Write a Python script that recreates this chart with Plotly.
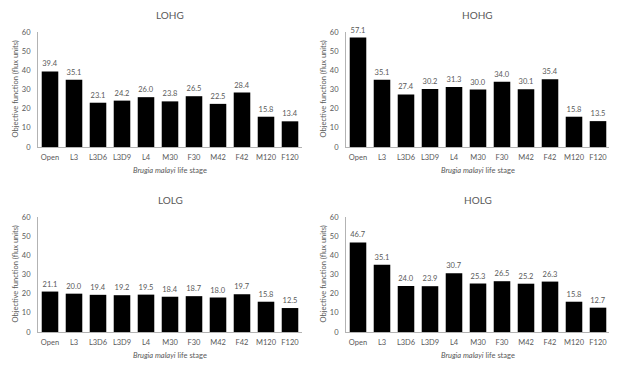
import plotly.graph_objects as go

stages = ["Open", "L3", "L3D6", "L3D9", "L4", "M30", "F30", "M42", "F42", "M120", "F120"]
lohg = [39.4, 35.1, 23.1, 24.2, 26.0, 23.8, 26.5, 22.5, 28.4, 15.8, 13.4]
hohg = [57.1, 35.1, 27.4, 30.2, 31.3, 30.0, 34.0, 30.1, 35.4, 15.8, 13.5]
lolg = [21.1, 20.0, 19.4, 19.2, 19.5, 18.4, 18.7, 18.0, 19.7, 15.8, 12.5]
holg = [46.7, 35.1, 24.0, 23.9, 30.7, 25.3, 26.5, 25.2, 26.3, 15.8, 12.7]
panel_titles = ["LOHG", "HOHG", "LOLG", "HOLG"]
y_ticks = [0, 10, 20, 30, 40, 50, 60]

# page body has an 8px margin; the figure is drawn at (8, 8)
OFF = 8
W, H = 617 - OFF, 370 - OFF
FONT = "Lato, Open Sans, sans-serif"
GRAY = "#595959"
AX = "#b3b3b3"
CLEAR = "rgba(0,0,0,0)"

# panel pixel boxes in window coords: (x0, x1, y_top(60), y_bottom(0))
boxes = [
    (38, 302, 32, 147),
    (346, 610, 32, 147),
    (38, 302, 217, 332),
    (346, 610, 217, 332),
]
series = [lohg, hohg, lolg, holg]


def px(x):
    return (x - OFF) / W


def py(y):
    return 1 - (y - OFF) / H


fig = go.Figure()
for i, (vals, box, title) in enumerate(zip(series, boxes, panel_titles)):
    n = "" if i == 0 else str(i + 1)
    x0, x1, yt, yb = box
    fig.add_trace(go.Bar(
        x=stages, y=vals, xaxis="x" + n, yaxis="y" + n,
        marker=dict(color="black", line=dict(width=0)),
        text=[f"{v:.1f}" for v in vals], textposition="outside",
        textfont=dict(family=FONT, size=7.5, color=GRAY),
        cliponaxis=False, showlegend=False,
    ))
    fig.layout["xaxis" + n] = dict(
        domain=[px(x0), px(x1)], anchor="y" + n, showline=True, linecolor=AX,
        linewidth=1, ticks="outside", ticklen=3, tickcolor=CLEAR,
        tickfont=dict(family=FONT, size=7.5, color=GRAY),
        showgrid=False, zeroline=False, automargin=False,
    )
    fig.layout["yaxis" + n] = dict(
        domain=[py(yb), py(yt)], anchor="x" + n, range=[0, 60], tickvals=y_ticks,
        showline=True, linecolor=AX, linewidth=1, ticks="outside", ticklen=5,
        tickcolor=CLEAR, tickfont=dict(family=FONT, size=7.5, color=GRAY),
        showgrid=False, zeroline=False, automargin=False,
    )
    cx = px((x0 + x1) / 2)
    fig.add_annotation(text=title, x=cx, y=py(yt - 17), xanchor="center", yanchor="middle",
                       xref="paper", yref="paper", showarrow=False,
                       font=dict(family=FONT, size=10, color=GRAY))
    fig.add_annotation(text="<i>Brugia malayi</i> life stage", x=cx, y=py(yb + 23),
                       xanchor="center", yanchor="middle",
                       xref="paper", yref="paper", showarrow=False,
                       font=dict(family=FONT, size=7.5, color=GRAY))
    fig.add_annotation(text="Objective function (flux units)", x=px(x0 - 23),
                       y=py((yt + yb) / 2), xanchor="center", yanchor="middle",
                       xref="paper", yref="paper",
                       showarrow=False, textangle=-90,
                       font=dict(family=FONT, size=7.5, color=GRAY))

fig.update_layout(
    width=W, height=H, margin=dict(l=0, r=0, t=0, b=0),
    paper_bgcolor="white", plot_bgcolor="white", bargap=0.31,
    font=dict(family=FONT, color=GRAY),
)
fig.write_html("out.html")
